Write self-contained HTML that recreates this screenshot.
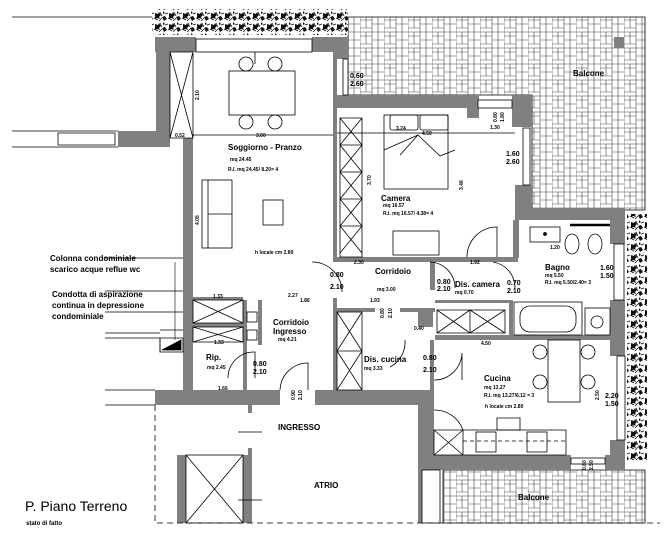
<!DOCTYPE html>
<html><head><meta charset="utf-8"><style>
html,body{margin:0;padding:0;background:#fff}
svg{display:block}
text{font-family:"Liberation Sans",sans-serif;font-weight:bold;fill:#000}
</style></head><body>
<svg width="669" height="540" viewBox="0 0 669 540" xmlns="http://www.w3.org/2000/svg">
<defs>
<pattern id="pav" width="24" height="16" patternUnits="userSpaceOnUse">
<rect width="24" height="16" fill="#fff"/>
<path d="M0 0H24M0 4H12M12 8H24M0 12H12M0 16H24M0 0V16M12 0V16M6 4V12M18 0V8M18 8V16M6 0V4" stroke="#444" stroke-width="0.6" fill="none"/>
</pattern>
<pattern id="hedge" width="14" height="11" patternUnits="userSpaceOnUse">
<rect width="14" height="11" fill="#fff"/>
<path d="M1 2l3 1 1-2 2 3-2 2 1 2-3-1-2 1zM8 6l3-1 2 3-3 2-1-2zM9 0l2 2-2 1z" fill="#111"/>
<path d="M0 7l4 2M6 1l2 4M11 3l3-1M5 10l3-3" stroke="#000" stroke-width="0.7"/>
</pattern>
</defs>
<g fill="none" stroke="#000" stroke-width="0.8">
<path d="M348 17H645V210H532V95H348Z" fill="url(#pav)"/>
<path d="M443 470H645V523H443Z" fill="url(#pav)"/>
<rect x="614" y="37" width="10" height="11" fill="#808080" stroke="none"/>
<rect x="152" y="9" width="196" height="26" fill="url(#hedge)" stroke="none"/>
<rect x="627" y="214" width="20" height="246" fill="url(#hedge)" stroke="none"/>
<line x1="12" y1="17" x2="152" y2="17"/>
<path d="M12 131H118M12 147H118M58 133H115V145H58Z"/>
<path d="M105 258H190M105 291H190M105 312H183M105 333H160M105 338H160M160 330H183M160 352V338M105 390H155M105 405H155"/>
<path d="M175 262V340" stroke-width="0.6"/>
</g>
<g fill="#808080">
<rect x="155" y="37" width="41" height="15"/>
<rect x="312" y="37" width="36" height="15"/>
<rect x="156" y="37" width="14" height="110"/>
<rect x="118" y="131" width="52" height="16"/>
<rect x="183" y="138" width="10" height="252"/>
<rect x="333" y="52" width="4" height="210"/>
<rect x="333" y="37" width="15" height="22"/>
<rect x="333" y="95" width="137" height="13"/>
<rect x="467" y="95" width="12" height="23"/>
<rect x="512" y="95" width="20" height="32"/>
<rect x="515" y="185" width="17" height="32"/>
<rect x="515" y="208" width="110" height="12"/>
<rect x="610" y="208" width="15" height="36"/>
<rect x="610" y="300" width="15" height="56"/>
<rect x="610" y="440" width="15" height="30"/>
<rect x="513" y="220" width="6" height="38"/>
<rect x="333" y="257" width="185" height="5"/>
<rect x="155" y="390" width="125" height="15"/>
<rect x="315" y="390" width="103" height="15"/>
<rect x="418" y="390" width="16" height="80"/>
<rect x="418" y="470" width="4" height="53"/>
<rect x="434" y="455" width="137" height="15"/>
<rect x="605" y="455" width="20" height="15"/>
<rect x="418" y="310" width="15" height="17"/>
<rect x="430" y="258" width="5" height="32"/>
<rect x="430" y="340" width="4" height="50"/>
<rect x="333" y="298" width="4" height="92"/>
<rect x="243" y="300" width="4" height="90"/>
<rect x="258" y="300" width="4" height="45"/>
<rect x="193" y="297" width="50" height="3"/>
<rect x="193" y="323" width="50" height="4"/>
<rect x="337" y="308" width="38" height="4"/>
<rect x="400" y="308" width="35" height="4"/>
<rect x="435" y="300" width="75" height="3"/>
<rect x="435" y="335" width="175" height="5"/>
<rect x="509" y="300" width="4" height="40"/>
<rect x="177" y="455" width="75" height="68"/>
<rect x="248" y="400" width="4" height="13"/>
<rect x="248" y="448" width="4" height="10"/>
</g>
<g fill="#fff" stroke="#000" stroke-width="0.8">
<rect x="196" y="39" width="116" height="13"/>
<rect x="186" y="455" width="57" height="68"/>
<rect x="343" y="59" width="5" height="36"/>
<rect x="478" y="100" width="34" height="8"/>
<rect x="523" y="128" width="7" height="57"/>
<rect x="614" y="244" width="10" height="56"/>
<rect x="617" y="356" width="8" height="84"/>
<rect x="571" y="458" width="34" height="6"/>
<rect x="422" y="470" width="18" height="53"/>
</g>
<g fill="none" stroke="#000" stroke-width="0.8">
<path d="M186 455L243 523M243 455L186 523"/>
<path d="M170 52H193V138H170ZM170 52L193 138M193 52L170 138"/>
<rect x="229" y="71" width="66" height="44"/>
<circle cx="246" cy="64" r="7"/><circle cx="275" cy="64" r="7"/>
<circle cx="246" cy="122" r="7"/><circle cx="275" cy="122" r="7"/>
<path d="M193 135H333M255 52V64"/>
<rect x="202" y="180" width="30" height="68"/><path d="M208 180V248M208 214H232"/>
<rect x="263" y="200" width="20" height="25"/>
<path d="M340 118H362V257H340ZM340 118L362 145L340 172L362 199L340 226L362 253M362 118L340 145L362 172L340 199L362 226L340 253M340 145H362M340 172H362M340 199H362M340 226H362"/>
<rect x="384" y="115" width="64" height="74"/>
<rect x="390" y="115" width="28" height="15" rx="2"/><rect x="420" y="115" width="28" height="15" rx="2"/>
<path d="M384 150L418 135L400 155M418 135L440 156L455 150"/>
<rect x="393" y="231" width="46" height="24"/>
<path d="M337 133H515M467 257A30 30 0 0 1 497 227V257"/>
<path d="M337 312H362V390H337ZM337 312L362 351L337 390M362 312L337 351L362 390M337 351H362"/>
<path d="M437 310H505V333H437ZM437 310L470 333L505 310M437 333L470 310L505 333M470 310V333"/>
<path d="M193 300H243V323H193ZM193 300L243 323M243 300L193 323M193 327H243V342H193ZM193 327L243 342M243 327L193 342"/>
<rect x="247" y="312" width="10" height="10"/><rect x="247" y="330" width="10" height="10"/>
<path d="M312 262A30 30 0 0 1 342 292M430 262A26 26 0 0 1 455 288M493 262A26 26 0 0 1 515 288M405 340A28 28 0 0 1 390 367M434 380A28 28 0 0 0 462 353V380M228 378A26 26 0 0 1 255 352V378M280 390A28 28 0 0 1 308 363V390"/>
<rect x="530" y="227" width="30" height="15"/><circle cx="545" cy="234" r="1.5" fill="#000"/>
<ellipse cx="572" cy="244" rx="7" ry="10"/><ellipse cx="595" cy="244" rx="7" ry="10"/>
<rect x="514" y="302" width="68" height="33"/><rect x="520" y="306" width="56" height="26" rx="10"/>
<rect x="585" y="308" width="25" height="27"/><circle cx="597" cy="322" r="6"/>
<path d="M570 225H610" stroke-width="2.5"/>
<rect x="548" y="340" width="32" height="62"/>
<circle cx="540" cy="352" r="7"/><circle cx="588" cy="352" r="7"/>
<circle cx="540" cy="382" r="7"/><circle cx="588" cy="382" r="7"/>
<path d="M434 430H566V455H434ZM434 430L463 455M463 430L434 455M463 430V455"/>
<rect x="476" y="432" width="20" height="20"/><rect x="527" y="432" width="20" height="20"/>
<path d="M463 441H566" stroke-dasharray="4 3"/>
<path d="M497 418H520V430H497Z"/>
<path d="M434 410A30 30 0 0 1 463 430"/>
<path d="M155 405V523H660" stroke-dasharray="6 4"/>
<path d="M238 432H262M238 500H262"/>
<path d="M160 338H183V352H160Z"/>
<path d="M162 350L181 340V350Z" fill="#000"/>
</g>
<g font-size="8">
<text x="228" y="150">Soggiorno - Pranzo</text>
<text x="381" y="201">Camera</text>
<text x="375" y="274">Corridoio</text>
<text x="455" y="287">Dis. camera</text>
<text x="545" y="270">Bagno</text>
<text x="273" y="325">Corridoio</text>
<text x="273" y="334">Ingresso</text>
<text x="364" y="362">Dis. cucina</text>
<text x="206" y="360">Rip.</text>
<text x="484" y="381">Cucina</text>
<text x="573" y="76">Balcone</text>
<text x="518" y="500">Balcone</text>
<text x="278" y="430">INGRESSO</text>
<text x="314" y="488">ATRIO</text>
<text x="50" y="261">Colonna condominiale</text>
<text x="50" y="272">scarico acque reflue wc</text>
<text x="52" y="297">Condotta di aspirazione</text>
<text x="52" y="308">continua in depressione</text>
<text x="52" y="319">condominiale</text>
</g>
<g font-size="5">
<text x="230" y="161">mq 24.45</text>
<text x="228" y="171">R.I. mq 24.45/ 8.20= 4</text>
<text x="255" y="254">h locale cm 2.80</text>
<text x="383" y="207">mq 16.57</text>
<text x="383" y="215">R.I. mq 16.57/ 4.38= 4</text>
<text x="377" y="291">mq 3.00</text>
<text x="455" y="294">mq 0.70</text>
<text x="545" y="277">mq 5.50</text>
<text x="545" y="284">R.I. mq 5.50/2.40= 3</text>
<text x="278" y="341">mq 4.21</text>
<text x="207" y="369">mq 2.45</text>
<text x="364" y="370">mq 3.33</text>
<text x="484" y="389">mq 13.27</text>
<text x="484" y="397">R.I. mq 13.27/6.12 = 3</text>
<text x="485" y="408">h locale cm 2.80</text>
<text x="256" y="137">3.60</text><text x="175" y="137">0.52</text>
<text x="396" y="130">3.24</text><text x="422" y="135">4.50</text><text x="490" y="129">1.30</text>
<text x="213" y="298">1.33</text><text x="288" y="297">2.27</text><text x="214" y="344">1.33</text>
<text x="218" y="390">1.66</text><text x="481" y="345">4.50</text>
<text x="370" y="302">1.93</text><text x="354" y="264">2.30</text><text x="470" y="264">1.92</text>
<text x="414" y="330">0.40</text><text x="300" y="302">1.86</text><text x="550" y="249">1.20</text>
</g>
<g font-size="7">
<text x="350" y="78">0.60</text><text x="350" y="86">2.60</text>
<text x="506" y="156">1.60</text><text x="506" y="164">2.60</text>
<text x="330" y="277">0.80</text><text x="330" y="289">2.10</text>
<text x="437" y="284">0.80</text><text x="437" y="291">2.10</text>
<text x="507" y="285">0.70</text><text x="507" y="293">2.10</text>
<text x="600" y="270">1.60</text><text x="600" y="278">1.50</text>
<text x="423" y="360">0.80</text><text x="423" y="372">2.10</text>
<text x="253" y="366">0.80</text><text x="253" y="374">2.10</text>
<text x="605" y="398">2.20</text><text x="605" y="406">1.50</text>
</g>
<g font-size="5">
<text transform="translate(199,100) rotate(-90)">2.10</text>
<text transform="translate(199,225) rotate(-90)">4.05</text>
<text transform="translate(371,185) rotate(-90)">3.70</text>
<text transform="translate(463,190) rotate(-90)">3.46</text>
<text transform="translate(295,400) rotate(-90)">0.90</text>
<text transform="translate(302,400) rotate(-90)">2.10</text>
<text transform="translate(384,318) rotate(-90)">0.80</text>
<text transform="translate(392,318) rotate(-90)">2.10</text>
<text transform="translate(586,470) rotate(-90)">0.80</text>
<text transform="translate(593,470) rotate(-90)">2.50</text>
<text transform="translate(599,400) rotate(-90)">2.50</text>
<text transform="translate(497,122) rotate(-90)">0.80</text>
<text transform="translate(504,122) rotate(-90)">1.80</text>
</g>
<text x="25" y="511" font-size="14" style="font-weight:normal">P. Piano Terreno</text>
<text x="26" y="525" font-size="6">stato di fatto</text>
</svg>
</body></html>
